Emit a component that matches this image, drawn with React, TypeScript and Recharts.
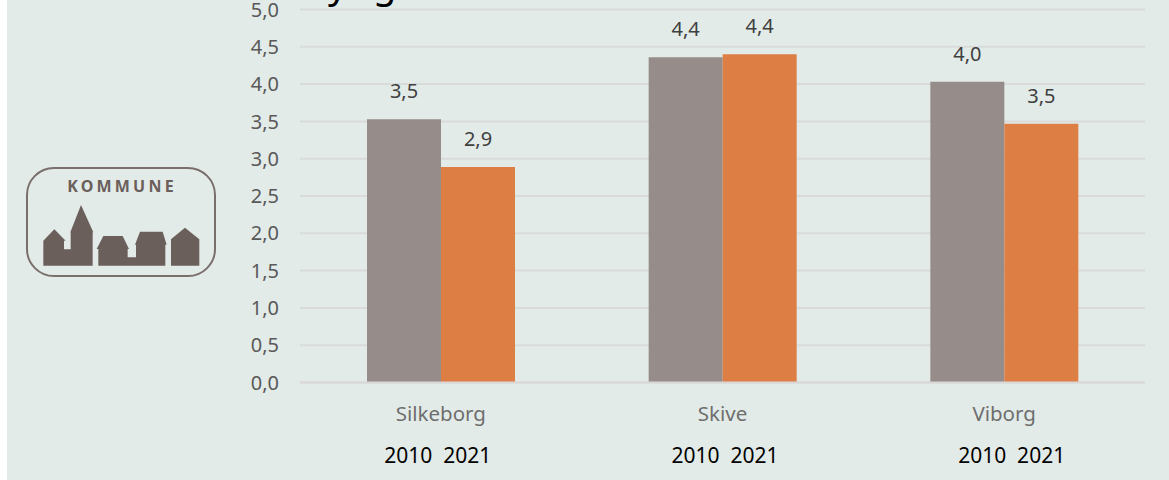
import React from "react";
import { BarChart, Bar, XAxis, YAxis, CartesianGrid, LabelList } from "recharts";

const categories = ["Silkeborg", "Skive", "Viborg"];
const values2010 = [3.53, 4.36, 4.03];
const values2021 = [2.89, 4.4, 3.47];
const yTicks = [0, 0.5, 1, 1.5, 2, 2.5, 3, 3.5, 4, 4.5, 5];
const yearLabel = "2010  2021";
const yearLabelShift = [-3, 2.5, 7.5];

const data = categories.map((name, i) => ({ name, y2010: values2010[i], y2021: values2021[i] }));

const FONT = "'Noto Sans', 'Open Sans', sans-serif";
const comma = (v: number) => v.toFixed(1).replace(".", ",");

const CategoryTick = (props: any) => {
  const { x, y, payload, index } = props;
  return (
    <g>
      <text x={x} y={y + 38} textAnchor="middle" fontFamily={FONT} fontSize={20.5} fill="#6e6e6e">
        {payload.value}
      </text>
      <text
        x={x + yearLabelShift[index]}
        y={y + 80}
        textAnchor="middle"
        fontFamily={FONT}
        fontSize={21}
        fill="#000000"
        style={{ whiteSpace: "pre" }}
      >
        {yearLabel}
      </text>
    </g>
  );
};

const Logo = () => (
  <svg width={1169} height={480} style={{ position: "absolute", left: 0, top: 0 }}>
    <rect x={27} y={168} width={188} height={108} rx={27} fill="none" stroke="#7a6f6c" strokeWidth={2} />
    <text x={122} y={192} textAnchor="middle" fontFamily={FONT} fontWeight={700} fontSize={16} letterSpacing={3.2} fill="#6b5f5c">
      KOMMUNE
    </text>
    <g transform="translate(10,150) scale(0.3333)" fill="#6b5f5c">
      <path d="M100 347 V272 L133 238 L167 272 H162 V298 H182 V247 H181 L213 165 L250 247 H248 V347 Z" />
      <path d="M265 347 V297 H260 L280 258 H338 L357 297 H353 V322 H378 V284 H375 L390 245 H458 L470 284 H466 V347 Z" />
      <path d="M483 347 V268 L525 233 L568 268 V347 Z" />
    </g>
    <text x={328} y={-2} fontFamily={FONT} fontSize={38} fill="#000000">y</text>
    <text x={373} y={-2} fontFamily={FONT} fontSize={38} fill="#000000">g</text>
  </svg>
);

export default function App() {
  return (
    <div style={{ position: "absolute", left: 0, top: 0, width: 1169, height: 480, background: "#ffffff", overflow: "hidden" }}>
      <div style={{ position: "absolute", left: 7, top: 0, width: 1162, height: 480, background: "#e3ebe8" }} />
      <div style={{ position: "absolute", left: 0, top: 0 }}>
        <BarChart
          width={1169}
          height={480}
          data={data}
          margin={{ top: 9.5, right: 24, bottom: 0, left: 0 }}
          barGap={0}
          barCategoryGap={67}
        >
          <CartesianGrid horizontal vertical={false} stroke="#d9dbdb" strokeWidth={2} />
          <XAxis
            dataKey="name"
            height={97.5}
            axisLine={{ stroke: "#d9d7d7", strokeWidth: 2 }}
            tickLine={false}
            interval={0}
            tick={<CategoryTick />}
            tickMargin={0}
            tickSize={0}
          />
          <YAxis
            width={300}
            domain={[0, 5]}
            ticks={yTicks}
            axisLine={false}
            tickLine={false}
            tickSize={0}
            tickMargin={21}
            tickFormatter={comma}
            tick={{ fontFamily: FONT, fontSize: 20, fill: "#595959" }}
            interval={0}
          />
          <Bar dataKey="y2010" fill="#968c89" isAnimationActive={false}>
            <LabelList dataKey="y2010" position="top" offset={21} formatter={comma} fontFamily={FONT} fontSize={20} fill="#404040" />
          </Bar>
          <Bar dataKey="y2021" fill="#dd7f45" isAnimationActive={false}>
            <LabelList dataKey="y2021" position="top" offset={21} formatter={comma} fontFamily={FONT} fontSize={20} fill="#404040" />
          </Bar>
        </BarChart>
      </div>
      <Logo />
    </div>
  );
}
